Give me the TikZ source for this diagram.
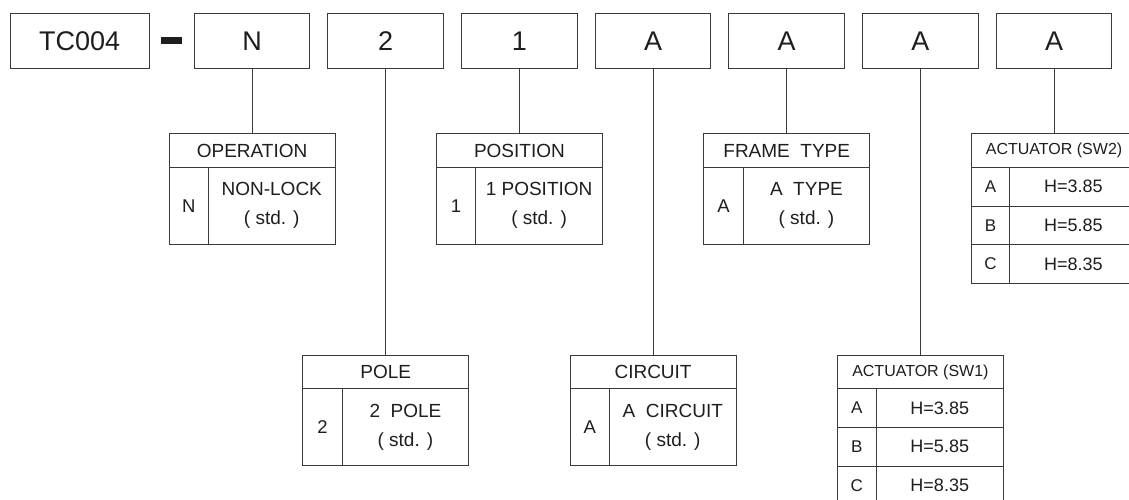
\documentclass[tikz,border=0pt]{standalone}
\usepackage{fontspec}
\setmainfont{Liberation Sans}
\definecolor{ink}{HTML}{3A3A3A}
\definecolor{txt}{HTML}{1E1E1E}
\tikzset{
  every node/.style={outer sep=0pt, inner sep=0pt, text=txt},
  lw/.style={line width=1pt, draw=ink},
  topbox/.style={lw, draw, minimum width=115.5pt, minimum height=55.7pt, font=\fontsize{27}{27}\selectfont},
  hdr/.style={lw, draw, minimum width=166pt, minimum height=33.3pt, font=\fontsize{19}{19}\selectfont},
  acthdr/.style={lw, draw, minimum width=166pt, minimum height=33.3pt, font=\fontsize{16}{16}\selectfont},
  keycell/.style={lw, draw, minimum width=39.4pt, minimum height=76.7pt, font=\fontsize{18.5}{18.5}\selectfont},
  desccell/.style={lw, draw, minimum width=126.6pt, minimum height=76.7pt, align=center, font=\fontsize{19}{29}\selectfont},
  actkey/.style={lw, draw, minimum width=38.7pt, minimum height=38.7pt, font=\fontsize{17}{17}\selectfont},
  actval/.style={lw, draw, minimum width=127.3pt, minimum height=38.7pt, font=\fontsize{18}{18}\selectfont},
  conn/.style={lw},
}
\newcommand\opttable[6]{%
  \node[hdr] (#1h) at (#2,#3+16.65) {#4};
  \node[keycell, anchor=north west] (#1k) at (#1h.south west) {#5};
  \node[desccell, anchor=north west] (#1d) at (#1k.north east) {#6};
}
\newcommand\acttable[4]{%
  \node[acthdr] (#1h) at (#2,#3+16.65) {#4};
  \node[actkey, anchor=north west] (#1ka) at (#1h.south west) {A};
  \node[actval, anchor=north west] (#1va) at (#1ka.north east) {H=3.85};
  \node[actkey, anchor=north west] (#1kb) at (#1ka.south west) {B};
  \node[actval, anchor=north west] (#1vb) at (#1kb.north east) {H=5.85};
  \node[actkey, anchor=north west] (#1kc) at (#1kb.south west) {C};
  \node[actval, anchor=north west] (#1vc) at (#1kc.north east) {H=8.35};
}
\begin{document}
\begin{tikzpicture}[x=1pt,y=-1pt]
\clip (0,0) rectangle (1129,500);
\fill[white] (0,0) rectangle (1129,500);
% top row
\node[topbox, minimum width=138.7pt] (tc) at (79.65,41.15) {TC004};
\node[fill=txt, minimum width=21pt, minimum height=6.5pt] (dash) at (171.5,40.5) {};
\node[topbox] (bN) at (252.05,41.15) {N};
\node[topbox] (b2) at (385.72,41.15) {2};
\node[topbox] (b1) at (519.39,41.15) {1};
\node[topbox] (bA1) at (653.06,41.15) {A};
\node[topbox] (bA2) at (786.73,41.15) {A};
\node[topbox] (bA3) at (920.40,41.15) {A};
\node[topbox] (bA4) at (1054.07,41.15) {A};
% tables
\opttable{op}{252.05}{134}{OPERATION}{N}{NON-LOCK\\( std. )}
\opttable{pole}{385.72}{355.3}{POLE}{2}{2\ \ POLE\\( std. )}
\opttable{pos}{519.39}{134}{POSITION}{1}{1 POSITION\\( std. )}
\opttable{cir}{653.06}{355.3}{CIRCUIT}{A}{A\ \ CIRCUIT\\( std. )}
\opttable{fr}{786.73}{134}{FRAME\ \ TYPE}{A}{A\ \ TYPE\\( std. )}
\acttable{swa}{920.40}{355.3}{ACTUATOR (SW1)}
\acttable{swb}{1054.07}{134}{ACTUATOR (SW2)}
% connectors
\draw[conn] (bN.south) -- (oph.north);
\draw[conn] (b2.south) -- (poleh.north);
\draw[conn] (b1.south) -- (posh.north);
\draw[conn] (bA1.south) -- (cirh.north);
\draw[conn] (bA2.south) -- (frh.north);
\draw[conn] (bA3.south) -- (swah.north);
\draw[conn] (bA4.south) -- (swbh.north);
\end{tikzpicture}
\end{document}
